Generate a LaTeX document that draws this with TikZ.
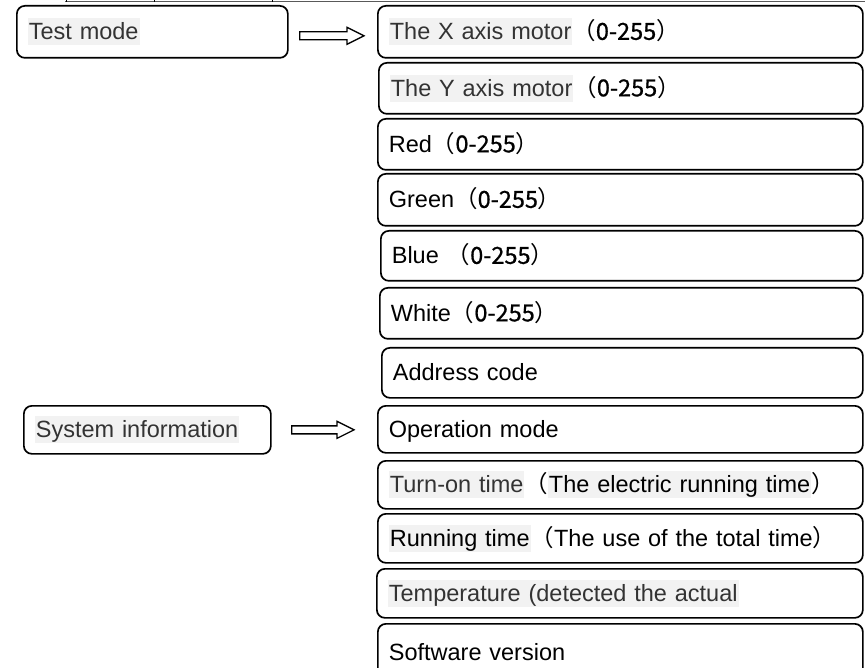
\documentclass[tikz,border=0pt]{standalone}
\usepackage{fontspec}
\setmainfont{Liberation Sans}
\newfontfamily\cjk{Noto Sans CJK SC}
\newfontfamily\cjkb[FakeBold=0.8]{Noto Sans CJK SC}
\usetikzlibrary{calc}
\definecolor{hlbg}{HTML}{F2F2F2}
\definecolor{hltx}{HTML}{333333}
\newcommand\hlx[2][hltx]{{\fboxsep=0pt\colorbox{hlbg}{\color{#1}\rule[-5.5pt]{0pt}{27pt}\kern1pt #2\kern1pt}}}
\newcommand\lp{{\cjk （}}
\newcommand\rp{{\cjk ）}}
\newcommand\rng{{\cjk （}{\cjkb 0-255}{\cjk ）}}
\newcommand\vs{\rule[-5.5pt]{0pt}{27pt}}
\tikzset{
  box/.style={draw, line width=1.7pt, rounded corners=8pt, anchor=north west,
    inner xsep=11pt, inner ysep=0pt, align=left, font=\fontsize{23.5}{28}\selectfont},
  harrow/.style={draw, fill=white, line width=1.3pt, line join=miter},
  tabline/.style={draw=black!65, line width=1pt},
}
\newcommand\rb[6]{%
  \pgfmathsetmacro\bw{#4-(#2)}\pgfmathsetmacro\bh{#5-(#3)}\pgfmathsetmacro\tw{\bw-22}%
  \node[box, minimum width=\bw pt, minimum height=\bh pt, text width=\tw pt] (#1) at (#2,#3) {\vs #6};}
\newcommand\blockarrow[2]{%
  \draw[harrow] let \p1=(#1), \p2=(#2) in
    (\x1,{\y1+4pt}) -- ({\x2-17pt},{\y1+4pt}) -- ({\x2-17pt},{\y1+8.5pt}) -- (\x2,\y1)
    -- ({\x2-17pt},{\y1-8.5pt}) -- ({\x2-17pt},{\y1-4pt}) -- (\x1,{\y1-4pt}) -- cycle;}
\begin{document}
\begin{tikzpicture}[x=1pt,y=-1pt]
\path[use as bounding box] (0,0) rectangle (865,668);
\clip (0,0) rectangle (865,668);
\fill[white] (0,0) rectangle (865,668);
% fragment of a table border at the top
\draw[tabline] (65,1.2) -- (865,1.2);
\draw[line width=0.8pt] (66,0) -- (66,2) (154,0) -- (154,2) (272,0) -- (272,2);
% left boxes
\rb{test}{16}{5}{287}{57}{\hlx{Test mode}}
\rb{sys}{23}{405}{270}{453}{\hlx{System information}}
% right boxes
\rb{xm}{377}{5}{862}{57}{\hlx{The X axis motor}\rng}
\rb{ym}{378}{62}{862}{113}{\hlx{The Y axis motor}\rng}
\rb{red}{377}{118}{862}{169}{Red\rng}
\rb{green}{377}{173}{862}{225}{Green\rng}
\rb{blue}{380}{230}{862}{280}{Blue \rng}
\rb{white}{379}{287}{862}{338}{White\rng}
\rb{addr}{381}{347}{862}{397}{Address code}
\rb{op}{377}{405}{862}{452}{Operation mode}
\rb{turn}{377}{460}{862}{508}{\hlx{Turn-on time}\lp\hlx[black]{The electric running time}\rp}
\rb{run}{377}{513}{862}{562}{\hlx[black]{Running time}\lp The use of the total time\rp}
\rb{temp}{376}{568}{862}{617}{\hlx{Temperature (detected the actual}}
\rb{soft}{377}{623}{862}{680}{Software version}
% arrows
\coordinate (a1s) at ($(test.east)+(11,4)$);
\coordinate (a1e) at ($(xm.west)+(-13,4)$);
\coordinate (a2s) at ($(sys.east)+(20,0)$);
\coordinate (a2e) at ($(op.west)+(-23,0)$);
\blockarrow{a1s}{a1e}
\blockarrow{a2s}{a2e}
\end{tikzpicture}
\end{document}
